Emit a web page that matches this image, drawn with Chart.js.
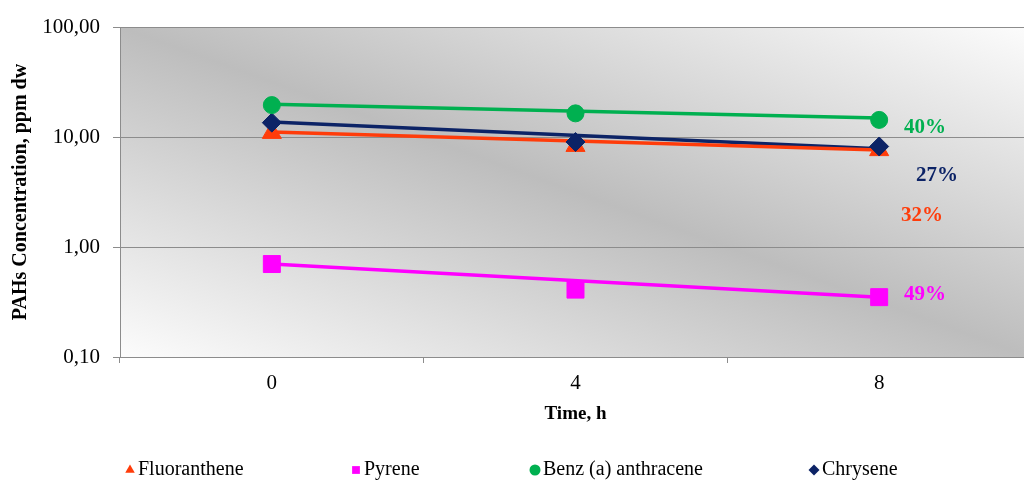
<!DOCTYPE html>
<html lang="en">
  <head>
    <meta charset="UTF-8" />
    <script src="https://cdn.jsdelivr.net/npm/chart.js"></script>
    <title>PAHs concentration</title>
    <style>
      html, body { margin: 0; padding: 0; background: #fff; overflow: hidden; }
      /* the plot area runs a little past the right edge, as in the original */
      #wrap { width: 1024px; height: 484px; overflow: hidden; }
    </style>
  </head>
  <body>
    <div id="wrap"><canvas id="myChart" width="1044" height="484"></canvas></div>

    <script>
      // values
      const timeLabels = ["0", "4", "8"];
      const seriesNames = ["Fluoranthene", "Pyrene", "Benz (a) anthracene", "Chrysene"];
      const fluoranthene = [10.9, 8.3, 7.6];
      const pyrene = [0.70, 0.41, 0.35];
      const benzAnthracene = [19.5, 16.4, 14.3];
      const chrysene = [13.5, 9.0, 8.2];
      // trend lines of the original (start at 0 h, end at 8 h)
      const trendStart = [11.1, 0.70, 19.8, 13.7];
      const trendEnd = [7.6, 0.35, 14.9, 7.8];
      const reductions = ["32%", "49%", "40%", "27%"];
      const yTicks = [0.1, 1, 10, 100];

      const colors = ["#ff3c0a", "#ff00ff", "#00b050", "#0c2366"];
      const styles = ["triangle", "rect", "circle", "rectRot"];
      const radii = [11, 12, 8.5, 9.5];
      const serif = "'Liberation Serif', 'Times New Roman', serif";

      const values = [fluoranthene, pyrene, benzAnthracene, chrysene];

      // markers on top (first datasets are drawn last), green over navy over orange
      const markerOrder = [2, 3, 0, 1];
      const datasets = [];
      markerOrder.forEach((i) => {
        datasets.push({
          label: seriesNames[i],
          data: values[i],
          showLine: false,
          pointStyle: styles[i],
          pointRadius: radii[i],
          pointBackgroundColor: colors[i],
          pointBorderColor: colors[i],
          pointBorderWidth: 1,
        });
      });
      [1, 0, 3, 2].forEach((i) => {
        datasets.push({
          label: seriesNames[i] + " trend",
          data: [trendStart[i], null, trendEnd[i]],
          spanGaps: true,
          borderColor: colors[i],
          borderWidth: 3.5,
          pointRadius: 0,
          tension: 0,
        });
      });

      // gray gradient behind the plot, dark along the top-left / bottom-right diagonal
      const plotBackground = {
        id: "plotBackground",
        beforeDraw(chart) {
          const { ctx, chartArea: a } = chart;
          ctx.save();
          ctx.translate(a.left, a.top);
          ctx.scale(a.right - a.left, a.bottom - a.top);
          const g = ctx.createLinearGradient(0, 1, 1, 0);
          g.addColorStop(0, "#fcfcfc");
          g.addColorStop(0.5, "#bdbdbd");
          g.addColorStop(1, "#fcfcfc");
          ctx.fillStyle = g;
          ctx.fillRect(0, 0, 1, 1);
          ctx.restore();
        },
      };

      // reduction labels next to the last points
      const pctLabels = [
        { x: 922, y: 216 },
        { x: 925, y: 295 },
        { x: 925, y: 128 },
        { x: 937, y: 176 },
      ];
      const reductionText = {
        id: "reductionText",
        afterDatasetsDraw(chart) {
          const ctx = chart.ctx;
          ctx.save();
          ctx.font = "bold 21px " + serif;
          ctx.textAlign = "center";
          ctx.textBaseline = "middle";
          reductions.forEach((t, i) => {
            ctx.fillStyle = colors[i];
            ctx.fillText(t, pctLabels[i].x, pctLabels[i].y);
          });
          ctx.restore();
        },
      };

      // legend spread along the bottom like the original
      const legendX = [130, 356, 535, 814];
      const bottomLegend = {
        id: "bottomLegend",
        afterDraw(chart) {
          const ctx = chart.ctx;
          ctx.save();
          ctx.font = "20px " + serif;
          ctx.textBaseline = "middle";
          ctx.textAlign = "left";
          seriesNames.forEach((name, i) => {
            ctx.fillStyle = colors[i];
            ctx.strokeStyle = colors[i];
            Chart.helpers.drawPoint(
              ctx,
              { pointStyle: styles[i], radius: 5.5, rotation: 0, borderWidth: 0 },
              legendX[i],
              470
            );
            ctx.fillStyle = "#000";
            ctx.fillText(name, legendX[i] + 8, 470);
          });
          ctx.restore();
        },
      };

      const ctx = document.getElementById("myChart");
      const chart = new Chart(ctx, {
        type: "line",
        data: { labels: timeLabels, datasets: datasets },
        plugins: [plotBackground, reductionText, bottomLegend],
        options: {
          responsive: false,
          animation: false,
          devicePixelRatio: 1,
          layout: { padding: { left: 0, right: 2, top: 27, bottom: 57 } },
          plugins: { legend: { display: false }, tooltip: { enabled: false } },
          scales: {
            x: {
              type: "category",
              offset: true,
              grid: {
                offset: true,
                drawOnChartArea: false,
                tickLength: 6,
                color: "#8c8c8c",
              },
              border: { color: "#8c8c8c" },
              ticks: { color: "#000", font: { family: serif, size: 21 }, padding: 8 },
              title: {
                display: true,
                text: "Time, h",
                color: "#000",
                font: { family: serif, size: 19, weight: "bold" },
                padding: { top: 0, bottom: 2 },
              },
              afterFit(scale) {
                scale.height = 70;
              },
            },
            y: {
              type: "logarithmic",
              min: 0.1,
              max: 100,
              afterBuildTicks(scale) {
                scale.ticks = yTicks.map((v) => ({ value: v }));
              },
              grid: { color: "#8c8c8c", tickLength: 7 },
              border: { color: "#8c8c8c" },
              ticks: {
                color: "#000",
                font: { family: serif, size: 21 },
                padding: 13,
                callback: (v) => Number(v).toFixed(2).replace(".", ","),
              },
              title: {
                display: true,
                text: "PAHs Concentration, ppm dw",
                color: "#000",
                font: { family: serif, size: 20, weight: "bold" },
                padding: { top: 9, bottom: 0 },
              },
              afterFit(scale) {
                scale.width = 120;
              },
            },
          },
        },
      });
    </script>
  </body>
</html>
